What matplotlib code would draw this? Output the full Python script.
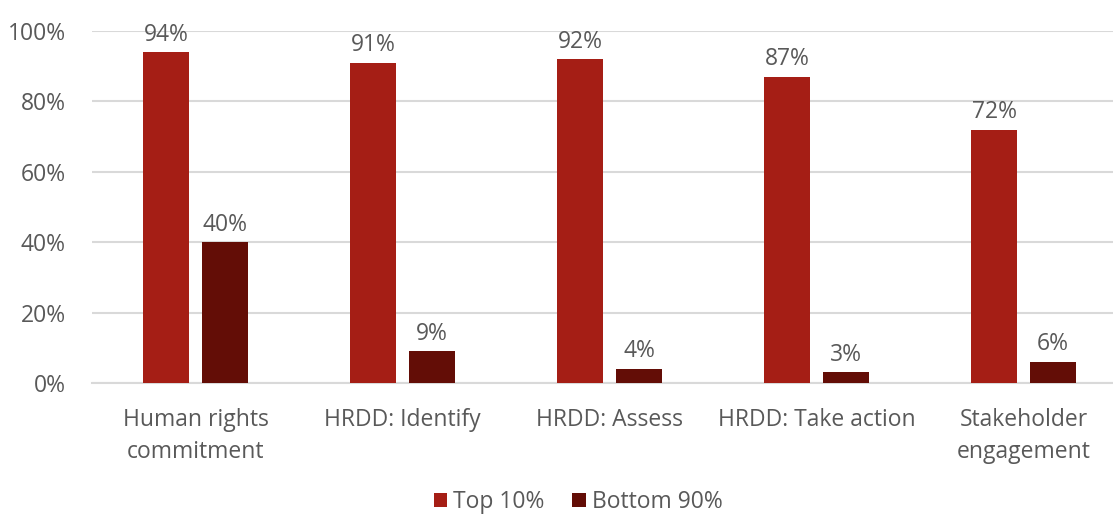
import matplotlib.pyplot as plt
import numpy as np

# Дані
categories = ["Human rights\ncommitment", "HRDD: Identify", "HRDD: Assess",
              "HRDD: Take action", "Stakeholder\nengagement"]
top10 = [94, 91, 92, 87, 72]
bottom90 = [40, 9, 4, 3, 6]
series_names = ["Top 10%", "Bottom 90%"]

col_top = '#A51E15'
col_bottom = '#630D06'
text_col = '#595959'
grid_col = '#D9D9D9'
fs = 16.5

plt.rcParams['font.family'] = ['Open Sans', 'DejaVu Sans']

fig = plt.figure(figsize=(11.13, 5.15), dpi=100)
ax = fig.add_axes([92 / 1113, 1 - 383 / 515, 1035 / 1113, 352 / 515])

x = np.arange(len(categories))
w = 0.222
off = 0.1425
b1 = ax.bar(x - off, top10, w, color=col_top, label=series_names[0], zorder=3)
b2 = ax.bar(x + off, bottom90, w, color=col_bottom, label=series_names[1], zorder=3)

# Підписи значень
for bars, vals in [(b1, top10), (b2, bottom90)]:
    for rect, v in zip(bars, vals):
        ax.annotate(f"{v}%", (rect.get_x() + rect.get_width() / 2, v),
                    xytext=(0, 4), textcoords='offset points',
                    ha='center', va='bottom', fontsize=fs, color=text_col,
                    annotation_clip=False)

ax.set_xlim(-0.5, 4.5)
ax.set_ylim(0, 100)
ax.set_yticks(range(0, 101, 20))
ax.set_yticklabels([f"{t}%" for t in range(0, 101, 20)])
ax.set_xticks(x)
ax.set_xticklabels(categories, linespacing=1.45)
ax.tick_params(axis='both', length=0, labelsize=fs, labelcolor=text_col)
ax.tick_params(axis='x', pad=18)
ax.tick_params(axis='y', pad=19)
ax.grid(axis='y', color=grid_col, linewidth=1.5, zorder=0)
for s in ['top', 'right', 'left']:
    ax.spines[s].set_visible(False)
ax.spines['bottom'].set_color(grid_col)
ax.spines['bottom'].set_linewidth(1.5)

fig.legend(loc='center', bbox_to_anchor=(578 / 1113, 1 - 502 / 515),
           ncol=2, frameon=False, fontsize=fs, labelcolor=text_col,
           handlelength=0.6, handleheight=0.6, handletextpad=0.25, columnspacing=1.2)

fig.savefig('out.png', dpi=100)
